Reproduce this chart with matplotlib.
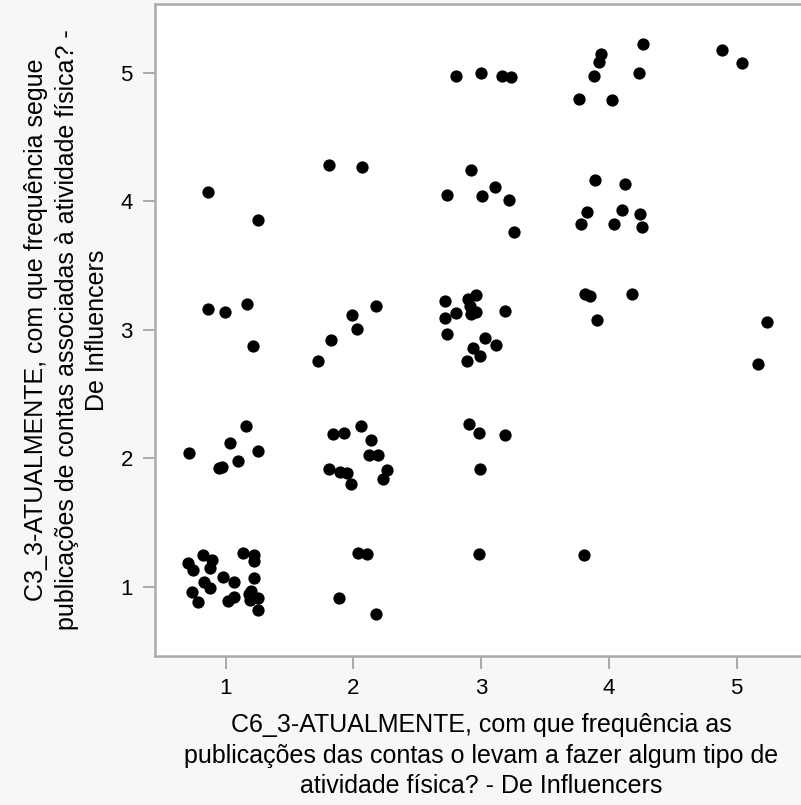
import matplotlib
matplotlib.use("Agg")
import matplotlib.pyplot as plt

plt.rcParams["font.family"] = ["Liberation Sans", "DejaVu Sans"]

# Jittered responses: x = C6_3 answer, y = C3_3 answer
x_vals = [
    # y ~ 5
    2.806, 3.001, 3.167, 3.234, 4.268, 3.941, 3.925, 3.886, 4.233, 3.763, 4.028, 4.884, 5.040,
    # y ~ 4
    0.861, 1.257, 1.808, 2.067, 2.920, 2.732, 3.108, 3.007, 3.221, 3.260,
    3.889, 4.129, 3.827, 4.106, 4.245, 3.785, 4.041, 4.255,
    # y ~ 3
    0.861, 0.995, 1.166, 1.218, 1.720, 1.824, 2.031, 1.986, 2.180,
    2.714, 2.896, 2.956, 2.800, 2.714, 2.912, 2.923, 2.956, 3.183,
    2.735, 3.027, 3.120, 2.935, 2.988, 2.886,
    3.811, 3.853, 4.177, 3.906, 5.238, 5.166,
    # y ~ 2
    0.716, 1.159, 1.032, 1.255, 1.094, 0.970, 0.952,
    1.841, 1.924, 2.058, 2.141, 2.123, 2.194, 1.808, 1.898, 1.954, 1.980, 2.265, 2.233,
    2.904, 2.984, 3.186, 2.991,
    # y ~ 1
    0.826, 0.891, 0.709, 0.748, 0.880, 1.138, 1.224, 1.220, 0.977, 1.068, 1.224,
    0.829, 0.880, 0.735, 0.782, 1.016, 1.068, 1.185, 1.202, 1.255, 1.195, 1.255,
    2.038, 2.109, 1.886, 2.177, 2.984, 3.805,
]
y_vals = [
    # y ~ 5
    4.977, 4.996, 4.977, 4.970, 5.227, 5.147, 5.087, 4.977, 5.001, 4.796, 4.786, 5.175, 5.076,
    # y ~ 4
    4.071, 3.858, 4.281, 4.266, 4.242, 4.053, 4.115, 4.045, 4.011, 3.761,
    4.164, 4.139, 3.917, 3.931, 3.899, 3.822, 3.822, 3.804,
    # y ~ 3
    3.164, 3.141, 3.200, 2.871, 2.761, 2.925, 3.006, 3.115, 3.182,
    3.224, 3.242, 3.268, 3.133, 3.094, 3.182, 3.125, 3.138, 3.146,
    2.964, 2.938, 2.886, 2.860, 2.800, 2.756,
    3.276, 3.260, 3.276, 3.073, 3.058, 2.736,
    # y ~ 2
    2.039, 2.255, 2.117, 2.055, 1.977, 1.935, 1.922,
    2.190, 2.195, 2.255, 2.143, 2.026, 2.024, 1.914, 1.896, 1.883, 1.800, 1.909, 1.836,
    2.268, 2.198, 2.185, 1.914,
    # y ~ 1
    1.249, 1.210, 1.182, 1.130, 1.150, 1.267, 1.249, 1.203, 1.078, 1.034, 1.072,
    1.034, 0.990, 0.963, 0.883, 0.891, 0.922, 0.945, 0.969, 0.917, 0.895, 0.818,
    1.260, 1.257, 0.912, 0.790, 1.257, 1.249,
]

tick_values = [1, 2, 3, 4, 5]

x_label = ("C6_3-ATUALMENTE, com que frequência as\n"
           "publicações das contas o levam a fazer algum tipo de\n"
           "atividade física? - De Influencers")
y_label = ("C3_3-ATUALMENTE, com que frequência segue\n"
           "publicações de contas associadas à atividade física? -\n"
           "De Influencers")

W, H = 801, 805
fig = plt.figure(figsize=(W / 100, H / 100), dpi=100)
fig.patch.set_facecolor("#f7f7f7")

left_px, right_px, top_px, bottom_px = 155, 807, 4, 656
ax = fig.add_axes([left_px / W, 1 - bottom_px / H,
                   (right_px - left_px) / W, (bottom_px - top_px) / H])
ax.set_facecolor("white")

ax.scatter(x_vals, y_vals, s=78, color="black", linewidths=0, zorder=3)

ax.set_xlim(0.448, 5.55)
ax.set_ylim(0.462, 5.536)
ax.set_xticks(tick_values)
ax.set_yticks(tick_values)

spine_color = "#aaaaaa"
for side in ["left", "bottom", "top"]:
    ax.spines[side].set_color(spine_color)
    ax.spines[side].set_linewidth(1.8)
ax.spines["right"].set_visible(False)

ax.tick_params(axis="both", direction="out", length=9, width=1.4,
               color=spine_color, labelsize=16, labelcolor="black", pad=7)

ax.set_xlabel(x_label, fontsize=18, linespacing=1.34, labelpad=10)
ax.set_ylabel(y_label, fontsize=18, linespacing=1.34, labelpad=8)

fig.savefig("out.png", dpi=100, facecolor=fig.get_facecolor())
